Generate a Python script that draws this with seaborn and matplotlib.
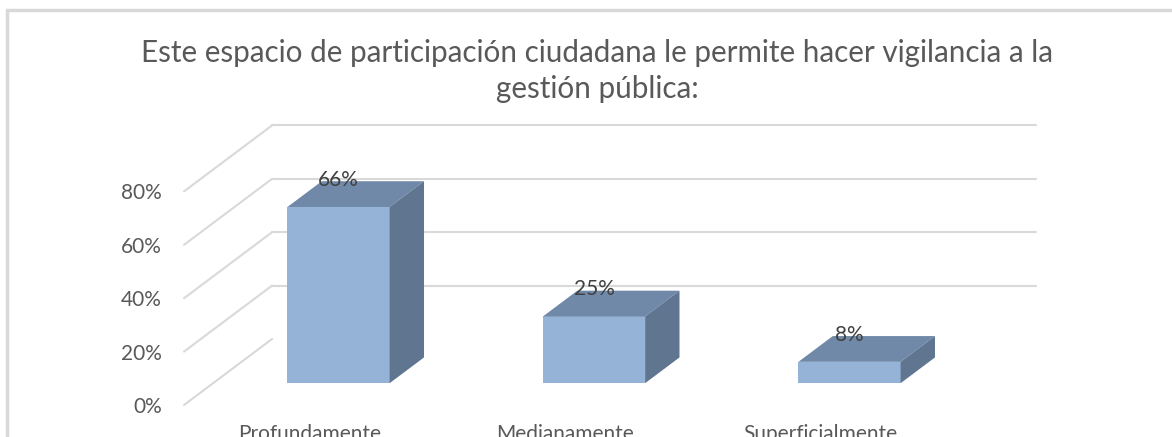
import matplotlib
matplotlib.use('Agg')
import matplotlib.pyplot as plt
from matplotlib.patches import Polygon
from matplotlib.lines import Line2D
import seaborn as sns
import pandas as pd

# data
categories = ['Profundamente', 'Medianamente', 'Superficialmente']
values = [66, 25, 8]
bar_labels = ['66%', '25%', '8%']
y_ticks = [0, 20, 40, 60, 80]
y_tick_labels = ['0%', '20%', '40%', '60%', '80%']
title = 'Este espacio de participación ciudadana le permite hacer vigilancia a la\ngestión pública:'

# fake 3d: shift per unit of depth (x in category units, y in %)
DX, DY = 0.345, 24.75
bar_d0, bar_d1 = 0.33, 0.72
bar_w = 0.4

front_c = '#95B3D7'
top_c = '#7089A8'
side_c = '#5F7590'
grid_c = '#D9D9D9'
text_c = '#595959'

sns.set_theme(style='white')
plt.rcParams['font.family'] = ['Lato', 'DejaVu Sans']

W, H = 1172, 437
fig = plt.figure(figsize=(W / 100, H / 100), dpi=100)
ax = fig.add_axes([184 / W, 32 / H, (1045 - 184) / W, (405 - 122) / H])

df = pd.DataFrame({'cat': categories, 'val': values})
sns.barplot(data=df, x='cat', y='val', color=front_c, width=bar_w,
            saturation=1, ax=ax, zorder=3)
# seaborn resets the limits, so set them afterwards
ax.set_xlim(-0.491, 2.879)
ax.set_ylim(0, 106)

# gridlines: diagonal on side wall + horizontal on back wall
x_left, x_right = -0.491, 2.5
for v in y_ticks:
    ax.add_line(Line2D([x_left, x_left + DX], [v, v + DY], color=grid_c,
                       lw=1.5, zorder=1, clip_on=False))
    if v > 0:
        ax.add_line(Line2D([x_left + DX, x_right + DX], [v + DY, v + DY],
                           color=grid_c, lw=1.5, zorder=1, clip_on=False))

# move front faces back and add top / side faces
for p, lab in zip(ax.patches, bar_labels):
    x0 = p.get_x() + bar_d0 * DX
    y0 = bar_d0 * DY
    h = p.get_height()
    w = p.get_width()
    p.set_x(x0)
    p.set_y(y0)
    p.set_linewidth(0)
    dd = (bar_d1 - bar_d0)
    top = [(x0, y0 + h), (x0 + w, y0 + h),
           (x0 + w + dd * DX, y0 + h + dd * DY), (x0 + dd * DX, y0 + h + dd * DY)]
    side = [(x0 + w, y0), (x0 + w + dd * DX, y0 + dd * DY),
            (x0 + w + dd * DX, y0 + h + dd * DY), (x0 + w, y0 + h)]
    ax.add_patch(Polygon(top, closed=True, facecolor=top_c, lw=0, zorder=3))
    ax.add_patch(Polygon(side, closed=True, facecolor=side_c, lw=0, zorder=3))
    ax.text(x0 + w / 2, y0 + h + dd * DY + 0.5, lab, ha='center', va='center',
            fontsize=15, color='#404040', zorder=5)

ax.set_yticks(y_ticks)
ax.set_yticklabels(y_tick_labels)
ax.tick_params(axis='y', length=0, pad=16, labelsize=15, labelcolor=text_c)
ax.set_xticks(range(len(categories)))
ax.set_xticklabels(categories)
ax.tick_params(axis='x', length=0, pad=14, labelsize=15, labelcolor=text_c)
ax.set_xlabel('')
ax.set_ylabel('')
for s in ax.spines.values():
    s.set_visible(False)
ax.patch.set_alpha(0)

fig.text(597 / W, 1 - 71 / H, title, ha='center', va='center', fontsize=21.3,
         color=text_c, linespacing=1.35)

# chart frame
fig.add_artist(Line2D([7 / W, 7 / W], [0, 1 - 10 / H], color=grid_c, lw=2.5,
                      transform=fig.transFigure))
fig.add_artist(Line2D([7 / W, 1], [1 - 10 / H, 1 - 10 / H], color=grid_c, lw=2.5,
                      transform=fig.transFigure))

fig.savefig('out.png', dpi=100)
